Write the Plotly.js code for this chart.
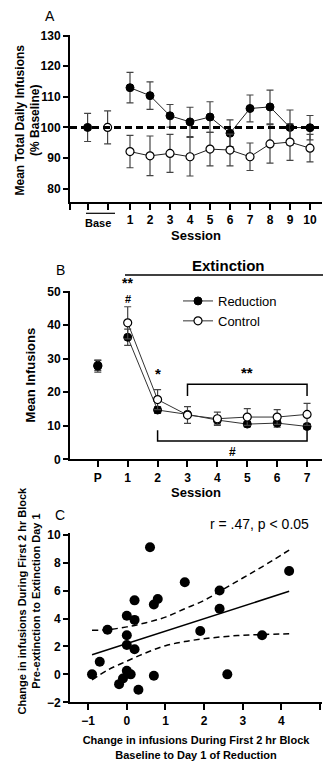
<!DOCTYPE html>
<html>
<head>
<meta charset="utf-8">
<script src="https://cdn.plot.ly/plotly-3.0.1.min.js"></script>
<style>html,body{margin:0;padding:0;background:#fff;}#chart{width:323px;height:764px;}</style>
</head>
<body>
<div id="chart"></div>
<script>
// ---------- Panel A data ----------
const baseX = [-1.12, -0.12];
const baseRed = [100];
const baseRedErr = [4.6];
const baseCtl = [100];
const baseCtlErr = [5.4];
const sessionsA = [1, 2, 3, 4, 5, 6, 7, 8, 9, 10];
const redA = [113.0, 110.4, 103.8, 101.8, 103.4, 98.1, 106.2, 106.7, 100.0, 99.9];
const redAErr = [5.0, 4.5, 3.7, 4.8, 5.0, 4.4, 4.4, 5.5, 5.7, 4.0];
const ctlA = [92.1, 90.7, 91.5, 90.4, 92.9, 92.6, 90.4, 94.6, 95.2, 93.2];
const ctlAErr = [5.3, 6.5, 6.2, 6.3, 5.5, 5.2, 4.5, 6.3, 6.0, 4.5];
const ticksA = [80, 90, 100, 110, 120, 130];

// ---------- Panel B data ----------
const pX = [0];
const redP = [27.8];
const redPErr = [1.8];
const ctlP = [28.0];
const ctlPErr = [1.5];
const sessionsB = [1, 2, 3, 4, 5, 6, 7];
const redB = [36.4, 14.7, 13.4, 11.7, 10.5, 10.8, 9.8];
const redBErr = [2.4, 1.0, 0.8, 1.2, 0.8, 1.2, 0.8];
const ctlB = [40.7, 17.8, 13.2, 12.1, 12.6, 12.6, 13.4];
const ctlBErr = [4.8, 3.0, 2.5, 2.0, 2.5, 2.2, 3.3];
const ticksB = [0, 10, 20, 30, 40, 50];

// ---------- Panel C data ----------
const cx = [0.6, 4.2, 1.5, 2.4, 0.2, 0.8, 0.7, 2.4, 0.0, 0.2, -0.5, 1.9, 3.5, 0.0, 0.0, 0.2, -0.7, -0.9, 0.0, 0.1, 0.7, 2.6, -0.1, -0.2, 0.3];
const cy = [9.1, 7.4, 6.6, 6.0, 5.3, 5.4, 5.0, 4.7, 4.2, 3.9, 3.2, 3.1, 2.8, 2.8, 2.1, 1.8, 0.9, 0.0, 0.25, 0.0, -0.1, 0.0, -0.3, -0.7, -1.1];
const fitX = [-0.9, 4.2];
const fitY = [1.4, 5.95];
const bandX = [-0.9, -0.5, 0, 0.5, 1, 1.5, 2, 2.5, 3, 3.5, 4.2];
const bandUp = [3.15, 3.2, 3.4, 3.7, 4.1, 4.7, 5.3, 6.1, 6.9, 7.7, 8.9];
const bandLo = [-0.4, 0.3, 0.95, 1.55, 2.05, 2.35, 2.55, 2.7, 2.8, 2.85, 2.9];

const F = 'Liberation Sans, Arial, sans-serif';
const ebColor = '#444';
function eb(arr){ return {type:'data', array: arr, visible:true, color: ebColor, thickness:1.2, width:3.5}; }
const filled = {color:'#000', size:8, line:{color:'#000', width:1}};
const open = {color:'#fff', size:8, line:{color:'#000', width:1.2}};

const traces = [
  // Panel A
  {x: [baseX[0]], y: baseRed, error_y: eb(baseRedErr), mode:'markers', marker: filled, xaxis:'x', yaxis:'y', showlegend:false},
  {x: [baseX[1]], y: baseCtl, error_y: eb(baseCtlErr), mode:'markers', marker: open, xaxis:'x', yaxis:'y', showlegend:false},
  {x: sessionsA, y: redA, error_y: eb(redAErr), mode:'lines+markers', line:{color:'#222', width:1}, marker: filled, xaxis:'x', yaxis:'y', showlegend:false},
  {x: sessionsA, y: ctlA, error_y: eb(ctlAErr), mode:'lines+markers', line:{color:'#222', width:1}, marker: open, xaxis:'x', yaxis:'y', showlegend:false},
  // Panel B
  {x: pX, y: ctlP, error_y: eb(ctlPErr), mode:'markers', marker: open, xaxis:'x2', yaxis:'y2', showlegend:false},
  {x: pX, y: redP, error_y: eb(redPErr), mode:'markers', marker: filled, xaxis:'x2', yaxis:'y2', showlegend:false},
  {x: sessionsB, y: redB, error_y: eb(redBErr), mode:'lines+markers', name:'Reduction', line:{color:'#333', width:1}, marker: filled, xaxis:'x2', yaxis:'y2'},
  {x: sessionsB, y: ctlB, error_y: eb(ctlBErr), mode:'lines+markers', name:'Control', line:{color:'#333', width:1}, marker: open, xaxis:'x2', yaxis:'y2'},
  // Panel C
  {x: bandX, y: bandUp, mode:'lines', line:{color:'#000', width:1.5, dash:'6px,4px', shape:'spline'}, xaxis:'x3', yaxis:'y3', showlegend:false},
  {x: bandX, y: bandLo, mode:'lines', line:{color:'#000', width:1.5, dash:'6px,4px', shape:'spline'}, xaxis:'x3', yaxis:'y3', showlegend:false},
  {x: fitX, y: fitY, mode:'lines', line:{color:'#000', width:1.5}, xaxis:'x3', yaxis:'y3', showlegend:false},
  {x: cx, y: cy, mode:'markers', marker:{color:'#000', size:10}, xaxis:'x3', yaxis:'y3', showlegend:false}
];

const tickFont = {family:F, size:12, color:'#000', weight:'bold'};
const titleFont = {family:F, size:13, color:'#000', weight:'bold'};
const titleFontA = {family:F, size:12, color:'#000', weight:'bold'};
const titleFontC = {family:F, size:11, color:'#000', weight:'bold'};
function axBase(extra){
  return Object.assign({showline:true, linecolor:'#000', linewidth:2, ticks:'outside', tickwidth:2, tickcolor:'#000',
    ticklen:5, showgrid:false, zeroline:false, tickfont:tickFont, fixedrange:true}, extra);
}
const px2x = p => p/323;
const px2y = p => 1 - p/764;

const layout = {
  width:323, height:764, margin:{l:0, r:0, t:0, b:0},
  paper_bgcolor:'#fff', plot_bgcolor:'rgba(0,0,0,0)',
  font:{family:F, color:'#000'},
  showlegend:true,
  legend:{x: px2x(178), y: px2y(286), xanchor:'left', yanchor:'top', bgcolor:'rgba(0,0,0,0)',
    font:{family:F, size:13, color:'#000'}, tracegroupgap:0},
  xaxis: axBase({domain:[px2x(70), px2x(322)], range:[-2, 10.6], anchor:'y', ticklen:6,
    tickvals:[-2, baseX[0], baseX[1]].concat(sessionsA), ticktext:['', '', ''].concat(sessionsA.map(String)),
    title:{text:'Session', font:titleFont, standoff:4}}),
  yaxis: axBase({domain:[px2y(202), px2y(34.5)], range:[75.6, 130.4], anchor:'x', tickvals:ticksA}),
  xaxis2: axBase({domain:[px2x(70), px2x(322)], range:[-0.93, 7.5], anchor:'y2', ticklen:6,
    tickvals:[0].concat(sessionsB), ticktext:['P'].concat(sessionsB.map(String)),
    title:{text:'Session', font:titleFont, standoff:2}}),
  yaxis2: axBase({domain:[px2y(459.3), px2y(291)], range:[0, 50.2], anchor:'x2', tickvals:ticksB,
    title:{text:'Mean Infusions', font:titleFont, standoff:9}}),
  xaxis3: axBase({domain:[px2x(70), px2x(322)], range:[-1.47, 5.05], anchor:'y3', ticklen:6,
    tickvals:[-1, 0, 1, 2, 3, 4, 5],
    title:{text:'Change in infusions During First 2 hr Block<br>Baseline to Day 1 of Reduction', font:titleFontC, standoff:10}}),
  yaxis3: axBase({domain:[px2y(702.3), px2y(533.3)], range:[-2, 10.1], anchor:'x3', tickvals:[-2, 0, 2, 4, 6, 8, 10]}),
  shapes:[
    {type:'line', xref:'x domain', x0:0, x1:1, yref:'y', y0:100, y1:100, line:{color:'#000', width:3, dash:'7px,4px'}},
    {type:'line', xref:'x', x0:-1.2, x1:0.25, yref:'paper', y0:px2y(213.3), y1:px2y(213.3), line:{color:'#000', width:1.2}},
    {type:'line', xref:'paper', x0:px2x(125), x1:1, yref:'paper', y0:px2y(275), y1:px2y(275), line:{color:'#000', width:1.5}},
    {type:'path', xref:'x2', yref:'y2', path:'M3,18.9 L3,22.4 L7,22.4 L7,18.9', line:{color:'#000', width:1.5}},
    {type:'path', xref:'x2', yref:'y2', path:'M2,8.7 L2,5.46 L7,5.46 L7,8.7', line:{color:'#000', width:1.5}}
  ],
  annotations:[
    {text:'Mean Total Daily Infusions<br>(% Baseline)', xref:'paper', yref:'paper', x:px2x(27.5), y:px2y(120), textangle:-90,
      xanchor:'center', yanchor:'middle', showarrow:false, font:titleFontA},
    {text:'Change in infusions During First 2 hr Block<br>Pre-extinction to Extinction Day 1', xref:'paper', yref:'paper', x:px2x(28.5), y:px2y(601), textangle:-90,
      xanchor:'center', yanchor:'middle', showarrow:false, font:titleFontC},
    {text:'A', xref:'paper', yref:'paper', x:px2x(50), y:px2y(16), xanchor:'center', yanchor:'middle', showarrow:false, font:{family:F, size:14}},
    {text:'Base', xref:'x', yref:'paper', x:-0.6, y:px2y(222.5), xanchor:'center', yanchor:'middle', showarrow:false, font:{family:F, size:11, weight:'bold'}},
    {text:'B', xref:'paper', yref:'paper', x:px2x(60), y:px2y(270), xanchor:'center', yanchor:'middle', showarrow:false, font:{family:F, size:14}},
    {text:'Extinction', xref:'paper', yref:'paper', x:px2x(228), y:px2y(265), xanchor:'center', yanchor:'middle', showarrow:false, font:{family:F, size:15, weight:'bold'}},
    {text:'**', xref:'x2', yref:'paper', x:1, y:px2y(282.5), xanchor:'center', yanchor:'middle', showarrow:false, font:{family:F, size:14, weight:'bold'}},
    {text:'#', xref:'x2', yref:'paper', x:1, y:px2y(298.5), xanchor:'center', yanchor:'middle', showarrow:false, font:{family:F, size:11, weight:'bold'}},
    {text:'*', xref:'x2', yref:'y2', x:2, y:25.6, xanchor:'center', yanchor:'middle', showarrow:false, font:{family:F, size:15, weight:'bold'}},
    {text:'**', xref:'x2', yref:'y2', x:5, y:25.8, xanchor:'center', yanchor:'middle', showarrow:false, font:{family:F, size:15, weight:'bold'}},
    {text:'#', xref:'x2', yref:'y2', x:4.5, y:2.2, xanchor:'center', yanchor:'middle', showarrow:false, font:{family:F, size:12, weight:'bold'}},
    {text:'C', xref:'paper', yref:'paper', x:px2x(60), y:px2y(515), xanchor:'center', yanchor:'middle', showarrow:false, font:{family:F, size:14}},
    {text:'r = .47, p < 0.05', xref:'paper', yref:'paper', x:px2x(259), y:px2y(524), xanchor:'center', yanchor:'middle', showarrow:false, font:{family:F, size:14}}
  ]
};

Plotly.newPlot('chart', traces, layout, {staticPlot:true, displayModeBar:false});
</script>
</body>
</html>
